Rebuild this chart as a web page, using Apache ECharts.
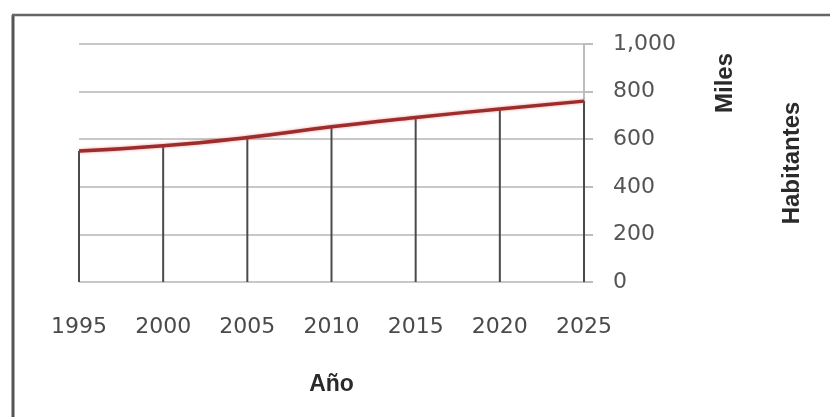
<!DOCTYPE html>
<html><head><meta charset="utf-8">
<script src="https://cdn.jsdelivr.net/npm/echarts@6/dist/echarts.min.js"></script>
<style>html,body{margin:0;padding:0;background:#fff}#c{width:830px;height:417px}</style>
</head><body><div id="c"></div>
<script>
const years = ['1995','2000','2005','2010','2015','2020','2025'];
const habitantes = [550, 572, 607, 652, 691, 727, 760];
const yTicks = [0, 200, 400, 600, 800, 1000];
const xTitle = 'Año';
const yTitle = 'Habitantes';
const unitLabel = 'Miles';

const chart = echarts.init(document.getElementById('c'), null, {renderer: 'canvas'});
const labelFont = 'DejaVu Sans';
const titleFont = '"Liberation Sans Narrow", "Liberation Sans", sans-serif';
chart.setOption({
  backgroundColor: '#fff',
  animation: false,
  grid: {left: 79, right: 246, top: 44, bottom: 135},
  xAxis: {
    type: 'category', data: years, boundaryGap: false,
    axisLine: {show: false}, axisTick: {show: false},
    splitLine: {show: false},
    axisLabel: {fontFamily: labelFont, fontSize: 22, color: '#4a4a4a', margin: 34},
    name: xTitle, nameLocation: 'middle', nameGap: 91,
    nameTextStyle: {fontFamily: titleFont, fontSize: 23, fontWeight: 'bold', color: '#2a2a2a'}
  },
  yAxis: {
    type: 'value', position: 'right', min: yTicks[0], max: yTicks[yTicks.length-1], interval: 200,
    axisLine: {show: true, lineStyle: {color: '#bdbdbd', width: 2}},
    axisTick: {show: true, inside: false, length: 9, lineStyle: {color: '#bdbdbd', width: 2}},
    splitLine: {show: true, lineStyle: {color: '#c8c8c8', width: 2}},
    axisLabel: {fontFamily: labelFont, fontSize: 22, color: '#555', margin: 29,
      formatter: v => v.toLocaleString('en-US')},
    name: yTitle, nameLocation: 'middle', nameGap: 196, nameRotate: 90,
    nameTextStyle: {fontFamily: titleFont, fontSize: 24, fontWeight: 'bold', color: '#2a2a2a'}
  },
  series: [
    {type: 'bar', data: habitantes, barWidth: 2, itemStyle: {color: '#4a4a4a'}, silent: true, z: 1},
    {type: 'line', data: habitantes, smooth: true, symbol: 'none',
     lineStyle: {color: '#9e2c2c', width: 3.5, shadowColor: 'rgba(220,90,90,0.6)', shadowBlur: 3}, z: 3}
  ],
  graphic: [
    {type: 'line', shape: {x1: 13, y1: 15, x2: 13, y2: 417}, style: {stroke: '#555', lineWidth: 3}},
    {type: 'line', shape: {x1: 12, y1: 15, x2: 830, y2: 15}, style: {stroke: '#666', lineWidth: 2.5}},
    {type: 'text', x: 725, y: 83, rotation: Math.PI/2,
     style: {text: unitLabel, font: 'bold 24px ' + titleFont, fill: '#2a2a2a', textAlign: 'center', textVerticalAlign: 'middle'}}
  ]
});
</script></body></html>
